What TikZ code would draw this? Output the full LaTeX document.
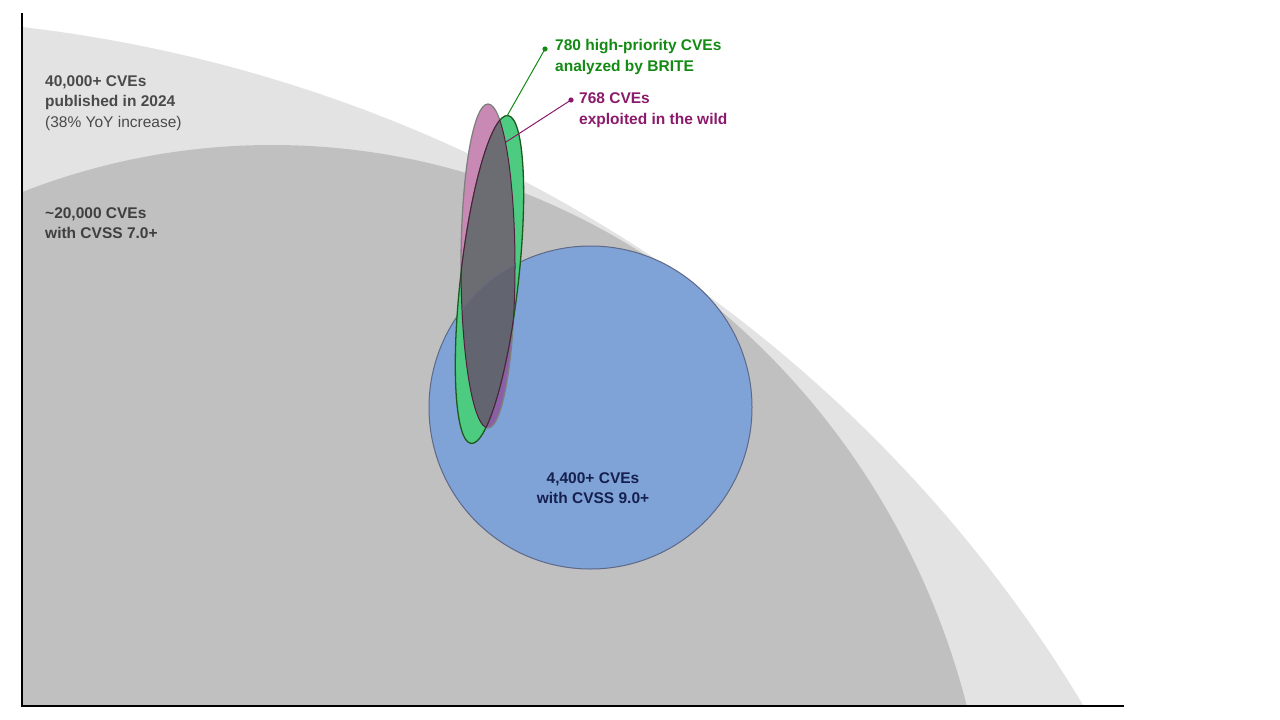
\documentclass[tikz,border=0pt]{standalone}
\usepackage{fontspec}
\setmainfont{Liberation Sans}
\begin{document}
\begin{tikzpicture}[x=1pt,y=-1pt,
  lbl/.style={inner sep=0pt,align=left,anchor=west,font=\fontsize{15.5}{20.6}\selectfont\bfseries},
  axisline/.style={line width=2pt,black},
  leader/.style={line width=1pt}]
\definecolor{lightbg}{HTML}{E3E3E3}
\definecolor{darkbg}{HTML}{C0C0C0}
\definecolor{bluefill}{HTML}{7FA3D6}
\definecolor{blueedge}{HTML}{5E6888}
\definecolor{pinkfill}{HTML}{C88AB5}
\definecolor{purplefill}{HTML}{8A5FA6}
\definecolor{greenfill}{HTML}{4DCB80}
\definecolor{greenedge}{HTML}{1E5A1E}
\definecolor{interfill}{HTML}{6C6D72}
\definecolor{interblue}{HTML}{626570}
\definecolor{interedge}{HTML}{52203F}
\definecolor{greentext}{HTML}{138A13}
\definecolor{purpletext}{HTML}{8B1A6B}
\definecolor{navytext}{HTML}{15204F}
\definecolor{graytext}{HTML}{4A4A4A}
\useasboundingbox (0,0) rectangle (1280,720);
% background regions
\begin{scope}
  \clip (22,0) rectangle (1124,706);
  \fill[lightbg] (-150,1406) ellipse [x radius=1428pt, y radius=1389pt];
  \fill[darkbg] (272,906) ellipse [x radius=720pt, y radius=761pt];
\end{scope}
% coordinates
\coordinate (bc) at (590.5,407.5);
\coordinate (pc) at (488,266);
\coordinate (gc) at (489.5,279.5);
\def\bluecircle{(bc) circle [radius=161.5pt]}
\def\pinkell{(pc) ellipse [x radius=27pt, y radius=162pt]}
\def\greenell{[rotate around={-6.4:(gc)}] (gc) ellipse [x radius=29pt, y radius=165pt]}
% blue circle
\fill[bluefill] \bluecircle;
\draw[blueedge,line width=1pt] \bluecircle;
% pink ellipse
\fill[pinkfill] \pinkell;
\begin{scope}
  \clip \bluecircle;
  \fill[purplefill] \pinkell;
\end{scope}
\draw[gray,line width=1.3pt] \pinkell;
% green ellipse
\fill[greenfill] \greenell;
\draw[greenedge,line width=1.3pt] \greenell;
% intersection
\begin{scope}
  \clip \pinkell;
  \fill[interfill] \greenell;
  \begin{scope}
    \clip \bluecircle;
    \fill[interblue] \greenell;
  \end{scope}
  \draw[interedge,line width=1pt] \greenell;
\end{scope}
\begin{scope}
  \clip \greenell;
  \draw[interedge,line width=1pt] \pinkell;
  \clip \pinkell;
  \draw[blueedge!60!interfill,line width=0.8pt] \bluecircle;
\end{scope}
% axes
\coordinate (ytop) at (22,13);
\coordinate (orig) at (22,706);
\coordinate (xend) at (1124,706);
\draw[axisline] (ytop) -- (orig) -- (xend);
% labels
\node[lbl,text=graytext] (all) at (45,103) {40,000+ CVEs\\published in 2024\\{\mdseries (38\% YoY increase)}};
\node[lbl,text=graytext!85!black] (high) at (45,223) {\textasciitilde 20,000 CVEs\\with CVSS 7.0+};
\node[lbl,text=greentext] (brite) at (555,57) {780 high-priority CVEs\\analyzed by BRITE};
\node[lbl,text=purpletext] (wild) at (579,110) {768 CVEs\\exploited in the wild};
\node[inner sep=0pt,align=center,font=\fontsize{15.5}{20.3}\selectfont\bfseries,text=navytext] (crit) at (593,488.5) {4,400+ CVEs\\with CVSS 9.0+};
% leaders
\coordinate (gdot) at (545,49);
\coordinate (gend) at (507,116);
\coordinate (pdot) at (571,100);
\coordinate (pend) at (506,142);
\draw[leader,greentext] (gdot) -- (gend);
\fill[greentext] (gdot) circle [radius=2.6pt];
\draw[leader,purpletext] (pdot) -- (pend);
\fill[purpletext] (pdot) circle [radius=2.6pt];
\end{tikzpicture}
\end{document}
